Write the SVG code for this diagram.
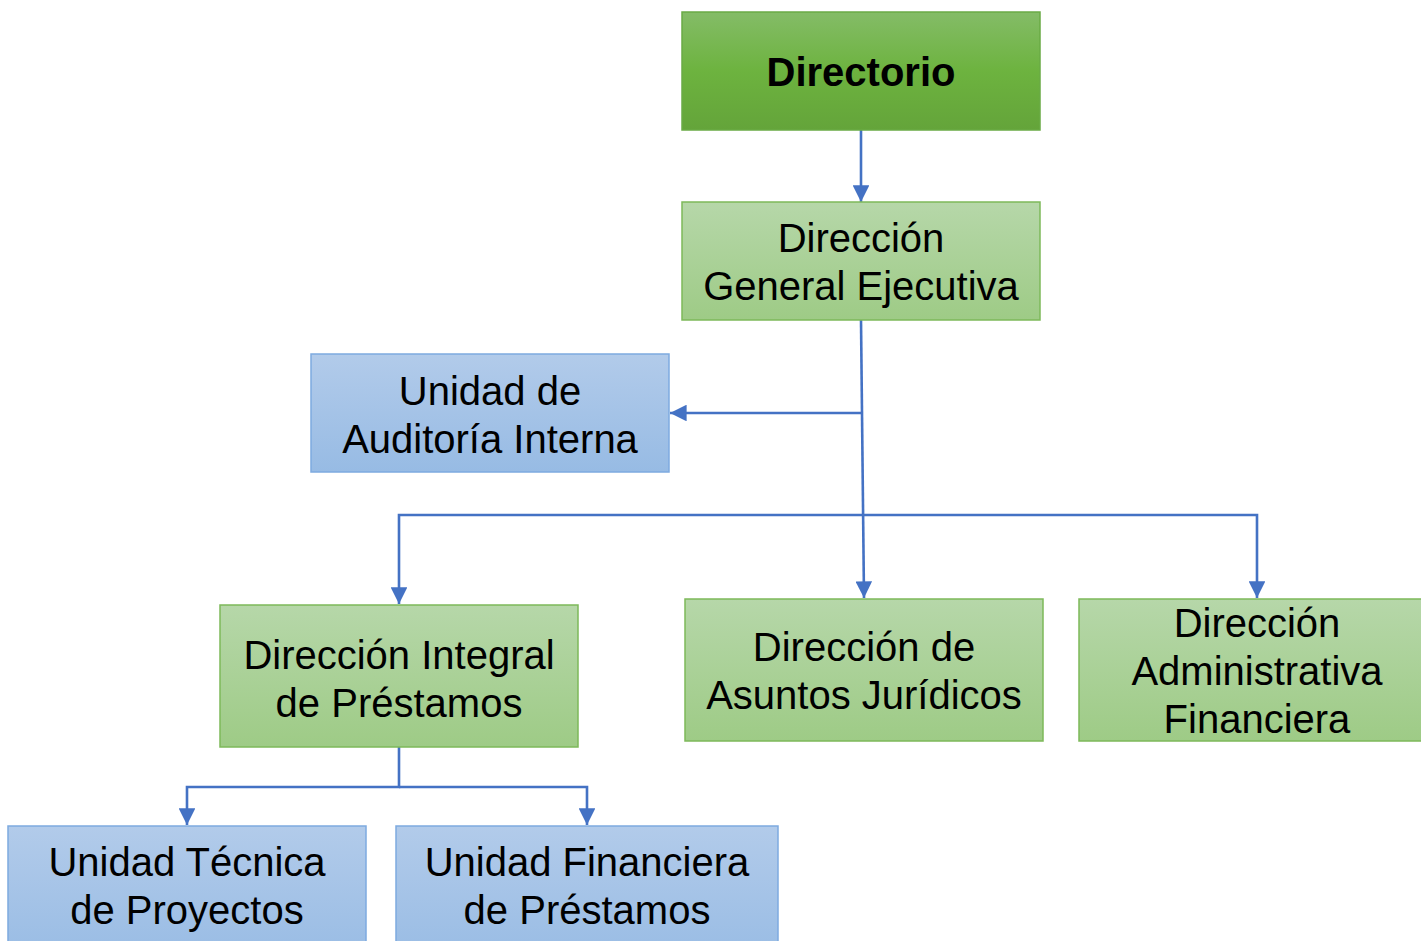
<svg xmlns="http://www.w3.org/2000/svg" width="1421" height="941" viewBox="0 0 1421 941">
  <defs>
    <linearGradient id="gDark" x1="0" y1="0" x2="0" y2="1">
      <stop offset="0" stop-color="#84bc67"/>
      <stop offset="0.5" stop-color="#6db33f"/>
      <stop offset="1" stop-color="#64a43a"/>
    </linearGradient>
    <linearGradient id="gLight" x1="0" y1="0" x2="0" y2="1">
      <stop offset="0" stop-color="#b6d7a9"/>
      <stop offset="1" stop-color="#9ecb86"/>
    </linearGradient>
    <linearGradient id="gBlue" x1="0" y1="0" x2="0" y2="1">
      <stop offset="0" stop-color="#b2cbea"/>
      <stop offset="1" stop-color="#97bbe4"/>
    </linearGradient>
    <marker id="arr" viewBox="0 0 10 10" refX="10" refY="5" markerWidth="6.4" markerHeight="6.4" markerUnits="strokeWidth" orient="auto">
      <path d="M0,0 L10,5 L0,10 Z" fill="#4472c4"/>
    </marker>
  </defs>
  <style>
    .dark { fill: url(#gDark); stroke: #6aab45; stroke-width: 1.5; }
    .light { fill: url(#gLight); stroke: #7db95a; stroke-width: 1.5; }
    .blue { fill: url(#gBlue); stroke: #7eaae0; stroke-width: 1.5; }
    text { font-family: "Liberation Sans", Arial, sans-serif; font-size: 40px; fill: #000; text-anchor: middle; }
    .bold { font-weight: bold; }
    .conn { fill: none; stroke: #4472c4; stroke-width: 2.6; }
  </style>
  <rect width="1421" height="941" fill="#ffffff"/>

  <g id="connectors">
    <path class="conn" d="M861,130 L861,202" marker-end="url(#arr)"/>
    <path class="conn" d="M861,320 L864,598" marker-end="url(#arr)"/>
    <path class="conn" d="M862,413 L670,413" marker-end="url(#arr)"/>
    <path class="conn" d="M863,515 L399,515 L399,604" marker-end="url(#arr)"/>
    <path class="conn" d="M863,515 L1257,515 L1257,598" marker-end="url(#arr)"/>
    <path class="conn" d="M399,747 L399,787 L187,787 L187,825" marker-end="url(#arr)"/>
    <path class="conn" d="M399,787 L587,787 L587,825" marker-end="url(#arr)"/>
  </g>

  <g id="directorio">
    <rect class="dark" x="682" y="12" width="358" height="118"/>
    <text class="bold" x="861" y="86">Directorio</text>
  </g>

  <g id="direccion-general">
    <rect class="light" x="682" y="202" width="358" height="118"/>
    <text x="861" y="252">Dirección</text>
    <text x="861" y="300">General Ejecutiva</text>
  </g>

  <g id="auditoria">
    <rect class="blue" x="311" y="354" width="358" height="118"/>
    <text x="490" y="405">Unidad de</text>
    <text x="490" y="453">Auditoría Interna</text>
  </g>

  <g id="integral-prestamos">
    <rect class="light" x="220" y="605" width="358" height="142"/>
    <text x="399" y="669">Dirección Integral</text>
    <text x="399" y="717">de Préstamos</text>
  </g>

  <g id="asuntos-juridicos">
    <rect class="light" x="685" y="599" width="358" height="142"/>
    <text x="864" y="661">Dirección de</text>
    <text x="864" y="709">Asuntos Jurídicos</text>
  </g>

  <g id="administrativa-financiera">
    <rect class="light" x="1079" y="599" width="358" height="142"/>
    <text x="1257" y="637">Dirección</text>
    <text x="1257" y="685">Administrativa</text>
    <text x="1257" y="733">Financiera</text>
  </g>

  <g id="tecnica-proyectos">
    <rect class="blue" x="8" y="826" width="358" height="142"/>
    <text x="187" y="876">Unidad Técnica</text>
    <text x="187" y="924">de Proyectos</text>
  </g>

  <g id="financiera-prestamos">
    <rect class="blue" x="396" y="826" width="382" height="142"/>
    <text x="587" y="876">Unidad Financiera</text>
    <text x="587" y="924">de Préstamos</text>
  </g>
</svg>
